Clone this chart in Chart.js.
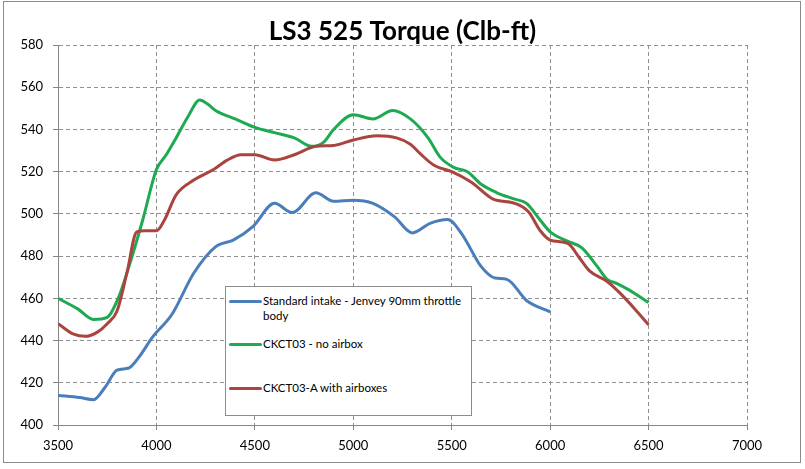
<!DOCTYPE html>
<html>
<head>
<meta charset="utf-8">
<script src="https://cdn.jsdelivr.net/npm/chart.js@4.4.0/dist/chart.umd.min.js"></script>
<style>
    body { margin: 0; background: #fff; }
    #wrap { position: relative; width: 805px; height: 469px; }
    #frame {
        position: absolute; left: 3px; top: 1px; width: 798px; height: 462px;
        box-sizing: border-box; border: 1px solid #8c8c8c; pointer-events: none;
    }
    #legend {
        position: absolute; left: 225px; top: 286px; width: 247px; height: 130px;
        box-sizing: border-box; border: 1px solid #8c8c8c; background: #fff;
        font-family: Lato, sans-serif; font-size: 11.5px; color: #000;
    }
    .item { position: absolute; left: 0; }
    .item .swatch { position: absolute; left: 3px; width: 33px; height: 3px; border-radius: 2px; }
    .item .txt { position: absolute; left: 37px; width: 208px; line-height: 15px; white-space: normal; }
</style>
</head>
<body>
<div id="wrap">
    <canvas id="chart" width="805" height="469"></canvas>
    <div id="frame"></div>
    <div id="legend"></div>
</div>
<script>
// ---- data ----
const seriesNames = [
    'Standard intake - Jenvey 90mm throttle body',
    'CKCT03 - no airbox',
    'CKCT03-A with airboxes'
];

const stdRpm = [3500, 3610, 3680, 3740, 3800, 3860, 3910, 3980, 4080, 4190, 4300, 4390, 4490, 4600, 4690, 4810, 4900, 5000, 5100, 5210, 5300, 5390, 5480, 5550, 5650, 5720, 5780, 5880, 6000];
const stdTorque = [414, 413, 412, 418, 426, 427, 432, 441.6, 452.6, 472, 484.4, 487.6, 494, 505, 500.6, 510, 506, 506.5, 505, 498.6, 491, 495.5, 497.3, 490.7, 475, 469.6, 469, 459, 453.6];

const noBoxRpm = [3500, 3600, 3680, 3750, 3810, 3860, 3930, 4000, 4050, 4100, 4160, 4220, 4260, 4300, 4400, 4500, 4600, 4700, 4790, 4850, 4900, 5000, 5100, 5200, 5290, 5380, 5440, 5510, 5580, 5650, 5730, 5820, 5880, 5950, 6000, 6090, 6160, 6240, 6290, 6340, 6400, 6500];
const noBoxTorque = [460, 455, 450, 451, 461, 475, 497, 521, 528, 536, 546, 554, 552, 549, 545, 541, 538.5, 536, 532, 534, 540, 547, 545, 549, 545, 536, 527, 522, 520, 514, 510, 507, 505, 497, 491.5, 487, 484, 475, 469, 467, 464, 458];

const airboxRpm = [3500, 3580, 3640, 3700, 3750, 3800, 3850, 3900, 3940, 4000, 4040, 4100, 4190, 4290, 4360, 4430, 4500, 4600, 4700, 4810, 4900, 5000, 5120, 5220, 5290, 5340, 5410, 5500, 5600, 5710, 5820, 5890, 5950, 6000, 6090, 6150, 6200, 6290, 6360, 6430, 6500];
const airboxTorque = [448, 443, 442, 444, 448, 454, 472, 491.5, 492, 492, 497, 509, 516, 521, 525.5, 528, 528, 525.5, 528, 532, 532.4, 535, 537, 536, 533, 528.5, 523, 520, 515, 507, 505, 501, 492, 487.6, 486, 479, 473, 468, 462, 455, 447.5];

const xTicks = [3500, 4000, 4500, 5000, 5500, 6000, 6500, 7000];
const yTicks = [400, 420, 440, 460, 480, 500, 520, 540, 560, 580];

const colors = ['#4A7EBB', '#1DAA50', '#A9443F'];

// ---- build ----
const toPoints = (xs, ys) => xs.map((x, i) => ({ x, y: ys[i] }));
const series = [
    toPoints(stdRpm, stdTorque),
    toPoints(noBoxRpm, noBoxTorque),
    toPoints(airboxRpm, airboxTorque)
];

const gridColor = '#8f8f8f';
const axisColor = '#868686';
const tickFont = { family: 'Lato', size: 13 };

new Chart(document.getElementById('chart'), {
    type: 'line',
    data: {
        datasets: series.map((pts, i) => ({
            label: seriesNames[i],
            data: pts,
            borderColor: colors[i],
            backgroundColor: colors[i],
            borderWidth: 3,
            pointRadius: 0,
            cubicInterpolationMode: 'monotone',
            order: 3 - i
        }))
    },
    options: {
        responsive: false,
        animation: false,
        events: [],
        layout: { padding: 0 },
        plugins: {
            legend: { display: false },
            tooltip: { enabled: false },
            title: {
                display: true,
                text: 'LS3 525 Torque (Clb-ft)',
                color: '#000',
                font: { family: 'Lato', size: 26, weight: 'bold', lineHeight: 1 },
                padding: { top: 19, bottom: 0 }
            }
        },
        scales: {
            x: {
                type: 'linear',
                min: 3500,
                max: 7000,
                afterBuildTicks: s => { s.ticks = xTicks.map(v => ({ value: v })); },
                afterFit: s => { s.height = 44; },
                ticks: { color: '#000', font: tickFont, padding: 8, maxRotation: 0, callback: v => String(v) },
                grid: { color: gridColor, tickColor: axisColor, tickLength: 5, tickBorderDash: [] },
                border: { color: axisColor, width: 1, dash: [4, 3] }
            },
            y: {
                min: 400,
                max: 580,
                afterBuildTicks: s => { s.ticks = yTicks.map(v => ({ value: v })); },
                afterFit: s => { s.width = 58; },
                ticks: { color: '#000', font: tickFont, padding: 10 },
                grid: { color: gridColor, tickColor: axisColor, tickLength: 5, tickBorderDash: [] },
                border: { color: axisColor, width: 1, dash: [4, 3] }
            },
            // empty right-hand spacer so the plot ends at 7000 where the original does
            spacer: {
                type: 'linear',
                position: 'right',
                min: 400,
                max: 580,
                afterFit: s => { s.width = 58; },
                ticks: { display: false },
                grid: { display: false, drawOnChartArea: false },
                border: { display: false }
            }
        }
    }
});

// ---- legend box (html, inside plot like the original) ----
const legendRows = [14, 57, 101];
const legend = document.getElementById('legend');
seriesNames.forEach((name, i) => {
    const row = document.createElement('div');
    row.className = 'item';
    row.style.top = (legendRows[i] - 1) + 'px';
    row.innerHTML = `<div class="swatch" style="background:${colors[i]};top:0"></div>` +
        `<div class="txt" style="top:-7px">${name}</div>`;
    legend.appendChild(row);
});
</script>
</body>
</html>
